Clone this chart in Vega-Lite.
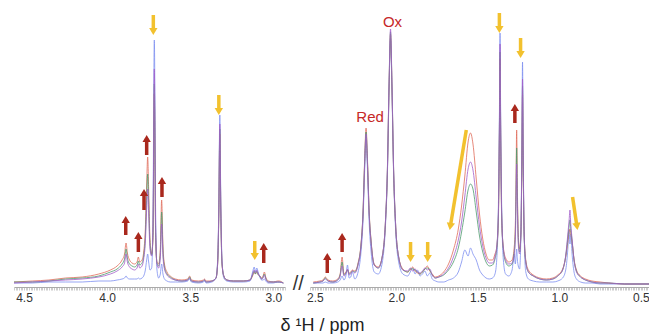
{
"$schema": "https://vega.github.io/schema/vega-lite/v6.json",
"padding": {"left": 12, "top": 0, "right": 0, "bottom": 0},
"spacing": 25,
"bounds": "flush",
"background": "white",
"config": {"view": {"stroke": null}, "font": "Liberation Sans"},
"resolve": {"scale": {"x": "independent", "y": "independent", "color": "independent"}},
"datasets": {
"specL": [
{"s":"b","x":4.56,"y":1},{"s":"b","x":4.45,"y":1},{"s":"b","x":4.35,"y":2},{"s":"b","x":4.25,"y":2},{"s":"b","x":4.15,"y":2},{"s":"b","x":4.05,"y":3},{"s":"b","x":3.98,"y":3},{"s":"b","x":3.94,"y":4},{"s":"b","x":3.91,"y":5},{"s":"b","x":3.895,"y":6},
{"s":"b","x":3.886,"y":8},{"s":"b","x":3.878,"y":6},{"s":"b","x":3.865,"y":5},{"s":"b","x":3.85,"y":5},{"s":"b","x":3.835,"y":5},{"s":"b","x":3.82,"y":5},{"s":"b","x":3.812,"y":6},{"s":"b","x":3.804,"y":5},{"s":"b","x":3.79,"y":6},{"s":"b","x":3.78,"y":8},
{"s":"b","x":3.77,"y":14},{"s":"b","x":3.762,"y":24},{"s":"b","x":3.756,"y":30},{"s":"b","x":3.75,"y":22},{"s":"b","x":3.742,"y":14},{"s":"b","x":3.732,"y":16},{"s":"b","x":3.724,"y":70},{"s":"b","x":3.716,"y":244},{"s":"b","x":3.708,"y":70},{"s":"b","x":3.70,"y":14},
{"s":"b","x":3.69,"y":6},{"s":"b","x":3.68,"y":10},{"s":"b","x":3.672,"y":20},{"s":"b","x":3.664,"y":10},{"s":"b","x":3.655,"y":5},{"s":"b","x":3.64,"y":3},{"s":"b","x":3.62,"y":2},{"s":"b","x":3.59,"y":2},{"s":"b","x":3.55,"y":2},{"s":"b","x":3.515,"y":3},
{"s":"b","x":3.504,"y":5},{"s":"b","x":3.493,"y":2},{"s":"b","x":3.45,"y":1},{"s":"b","x":3.42,"y":2},{"s":"b","x":3.414,"y":3},{"s":"b","x":3.405,"y":1},{"s":"b","x":3.37,"y":2},{"s":"b","x":3.345,"y":6},{"s":"b","x":3.335,"y":25},{"s":"b","x":3.328,"y":80},
{"s":"b","x":3.322,"y":169},{"s":"b","x":3.316,"y":80},{"s":"b","x":3.309,"y":25},{"s":"b","x":3.298,"y":6},{"s":"b","x":3.28,"y":3},{"s":"b","x":3.24,"y":2},{"s":"b","x":3.18,"y":2},{"s":"b","x":3.14,"y":3},{"s":"b","x":3.125,"y":12},{"s":"b","x":3.115,"y":17},
{"s":"b","x":3.108,"y":12},{"s":"b","x":3.10,"y":16},{"s":"b","x":3.09,"y":11},{"s":"b","x":3.082,"y":7},{"s":"b","x":3.07,"y":4},{"s":"b","x":3.062,"y":4},{"s":"b","x":3.054,"y":5},{"s":"b","x":3.046,"y":3},{"s":"b","x":3.03,"y":1},{"s":"b","x":3.0,"y":1},
{"s":"b","x":2.975,"y":2},{"s":"b","x":2.965,"y":2},{"s":"b","x":2.94,"y":1},
{"s":"r","x":4.56,"y":2},{"s":"r","x":4.45,"y":3},{"s":"r","x":4.35,"y":4},{"s":"r","x":4.25,"y":6},{"s":"r","x":4.15,"y":7},{"s":"r","x":4.05,"y":10},{"s":"r","x":3.98,"y":14},{"s":"r","x":3.94,"y":18},{"s":"r","x":3.91,"y":24},{"s":"r","x":3.895,"y":30},
{"s":"r","x":3.886,"y":41},{"s":"r","x":3.878,"y":31},{"s":"r","x":3.865,"y":24},{"s":"r","x":3.85,"y":21},{"s":"r","x":3.835,"y":20},{"s":"r","x":3.82,"y":22},{"s":"r","x":3.812,"y":27},{"s":"r","x":3.804,"y":22},{"s":"r","x":3.79,"y":24},{"s":"r","x":3.78,"y":32},
{"s":"r","x":3.77,"y":55},{"s":"r","x":3.762,"y":100},{"s":"r","x":3.756,"y":127},{"s":"r","x":3.75,"y":95},{"s":"r","x":3.742,"y":45},{"s":"r","x":3.732,"y":30},{"s":"r","x":3.724,"y":45},{"s":"r","x":3.716,"y":190},{"s":"r","x":3.708,"y":45},{"s":"r","x":3.70,"y":22},
{"s":"r","x":3.69,"y":20},{"s":"r","x":3.68,"y":35},{"s":"r","x":3.672,"y":84},{"s":"r","x":3.664,"y":38},{"s":"r","x":3.655,"y":20},{"s":"r","x":3.64,"y":12},{"s":"r","x":3.62,"y":8},{"s":"r","x":3.59,"y":5},{"s":"r","x":3.55,"y":4},{"s":"r","x":3.515,"y":5},
{"s":"r","x":3.504,"y":8},{"s":"r","x":3.493,"y":4},{"s":"r","x":3.45,"y":3},{"s":"r","x":3.42,"y":4},{"s":"r","x":3.414,"y":5},{"s":"r","x":3.405,"y":3},{"s":"r","x":3.37,"y":3},{"s":"r","x":3.345,"y":6},{"s":"r","x":3.335,"y":20},{"s":"r","x":3.328,"y":70},
{"s":"r","x":3.322,"y":150},{"s":"r","x":3.316,"y":70},{"s":"r","x":3.309,"y":20},{"s":"r","x":3.298,"y":8},{"s":"r","x":3.28,"y":4},{"s":"r","x":3.24,"y":3},{"s":"r","x":3.18,"y":3},{"s":"r","x":3.14,"y":4},{"s":"r","x":3.125,"y":8},{"s":"r","x":3.115,"y":12},
{"s":"r","x":3.108,"y":10},{"s":"r","x":3.10,"y":12},{"s":"r","x":3.09,"y":9},{"s":"r","x":3.082,"y":8},{"s":"r","x":3.07,"y":6},{"s":"r","x":3.062,"y":8},{"s":"r","x":3.054,"y":12},{"s":"r","x":3.046,"y":7},{"s":"r","x":3.03,"y":3},{"s":"r","x":3.0,"y":2},
{"s":"r","x":2.975,"y":3},{"s":"r","x":2.965,"y":3},{"s":"r","x":2.94,"y":1},
{"s":"g","x":4.56,"y":2},{"s":"g","x":4.45,"y":2},{"s":"g","x":4.35,"y":3},{"s":"g","x":4.25,"y":5},{"s":"g","x":4.15,"y":6},{"s":"g","x":4.05,"y":8},{"s":"g","x":3.98,"y":12},{"s":"g","x":3.94,"y":15},{"s":"g","x":3.91,"y":20},{"s":"g","x":3.895,"y":25},
{"s":"g","x":3.886,"y":35},{"s":"g","x":3.878,"y":26},{"s":"g","x":3.865,"y":20},{"s":"g","x":3.85,"y":18},{"s":"g","x":3.835,"y":17},{"s":"g","x":3.82,"y":19},{"s":"g","x":3.812,"y":23},{"s":"g","x":3.804,"y":19},{"s":"g","x":3.79,"y":21},{"s":"g","x":3.78,"y":28},
{"s":"g","x":3.77,"y":48},{"s":"g","x":3.762,"y":88},{"s":"g","x":3.756,"y":110},{"s":"g","x":3.75,"y":82},{"s":"g","x":3.742,"y":40},{"s":"g","x":3.732,"y":29},{"s":"g","x":3.724,"y":50},{"s":"g","x":3.716,"y":200},{"s":"g","x":3.708,"y":50},{"s":"g","x":3.70,"y":21},
{"s":"g","x":3.69,"y":18},{"s":"g","x":3.68,"y":30},{"s":"g","x":3.672,"y":72},{"s":"g","x":3.664,"y":33},{"s":"g","x":3.655,"y":17},{"s":"g","x":3.64,"y":10},{"s":"g","x":3.62,"y":7},{"s":"g","x":3.59,"y":4},{"s":"g","x":3.55,"y":3},{"s":"g","x":3.515,"y":4},
{"s":"g","x":3.504,"y":7},{"s":"g","x":3.493,"y":3},{"s":"g","x":3.45,"y":2},{"s":"g","x":3.42,"y":3},{"s":"g","x":3.414,"y":4},{"s":"g","x":3.405,"y":2},{"s":"g","x":3.37,"y":3},{"s":"g","x":3.345,"y":6},{"s":"g","x":3.335,"y":21},{"s":"g","x":3.328,"y":72},
{"s":"g","x":3.322,"y":155},{"s":"g","x":3.316,"y":72},{"s":"g","x":3.309,"y":21},{"s":"g","x":3.298,"y":8},{"s":"g","x":3.28,"y":4},{"s":"g","x":3.24,"y":3},{"s":"g","x":3.18,"y":3},{"s":"g","x":3.14,"y":4},{"s":"g","x":3.125,"y":9},{"s":"g","x":3.115,"y":13},
{"s":"g","x":3.108,"y":10},{"s":"g","x":3.10,"y":13},{"s":"g","x":3.09,"y":9},{"s":"g","x":3.082,"y":8},{"s":"g","x":3.07,"y":5},{"s":"g","x":3.062,"y":7},{"s":"g","x":3.054,"y":10},{"s":"g","x":3.046,"y":6},{"s":"g","x":3.03,"y":2},{"s":"g","x":3.0,"y":2},
{"s":"g","x":2.975,"y":2},{"s":"g","x":2.965,"y":2},{"s":"g","x":2.94,"y":1},
{"s":"p","x":4.56,"y":1},{"s":"p","x":4.45,"y":2},{"s":"p","x":4.35,"y":3},{"s":"p","x":4.25,"y":4},{"s":"p","x":4.15,"y":5},{"s":"p","x":4.05,"y":7},{"s":"p","x":3.98,"y":10},{"s":"p","x":3.94,"y":13},{"s":"p","x":3.91,"y":17},{"s":"p","x":3.895,"y":21},
{"s":"p","x":3.886,"y":30},{"s":"p","x":3.878,"y":22},{"s":"p","x":3.865,"y":17},{"s":"p","x":3.85,"y":15},{"s":"p","x":3.835,"y":14},{"s":"p","x":3.82,"y":16},{"s":"p","x":3.812,"y":20},{"s":"p","x":3.804,"y":16},{"s":"p","x":3.79,"y":18},{"s":"p","x":3.78,"y":25},
{"s":"p","x":3.77,"y":42},{"s":"p","x":3.762,"y":75},{"s":"p","x":3.756,"y":95},{"s":"p","x":3.75,"y":70},{"s":"p","x":3.742,"y":35},{"s":"p","x":3.732,"y":28},{"s":"p","x":3.724,"y":55},{"s":"p","x":3.716,"y":215},{"s":"p","x":3.708,"y":55},{"s":"p","x":3.70,"y":20},
{"s":"p","x":3.69,"y":16},{"s":"p","x":3.68,"y":26},{"s":"p","x":3.672,"y":60},{"s":"p","x":3.664,"y":28},{"s":"p","x":3.655,"y":15},{"s":"p","x":3.64,"y":9},{"s":"p","x":3.62,"y":6},{"s":"p","x":3.59,"y":4},{"s":"p","x":3.55,"y":3},{"s":"p","x":3.515,"y":4},
{"s":"p","x":3.504,"y":6},{"s":"p","x":3.493,"y":3},{"s":"p","x":3.45,"y":2},{"s":"p","x":3.42,"y":3},{"s":"p","x":3.414,"y":4},{"s":"p","x":3.405,"y":2},{"s":"p","x":3.37,"y":3},{"s":"p","x":3.345,"y":6},{"s":"p","x":3.335,"y":22},{"s":"p","x":3.328,"y":75},
{"s":"p","x":3.322,"y":160},{"s":"p","x":3.316,"y":75},{"s":"p","x":3.309,"y":22},{"s":"p","x":3.298,"y":8},{"s":"p","x":3.28,"y":4},{"s":"p","x":3.24,"y":3},{"s":"p","x":3.18,"y":3},{"s":"p","x":3.14,"y":4},{"s":"p","x":3.125,"y":10},{"s":"p","x":3.115,"y":14},
{"s":"p","x":3.108,"y":11},{"s":"p","x":3.10,"y":14},{"s":"p","x":3.09,"y":10},{"s":"p","x":3.082,"y":8},{"s":"p","x":3.07,"y":5},{"s":"p","x":3.062,"y":6},{"s":"p","x":3.054,"y":9},{"s":"p","x":3.046,"y":5},{"s":"p","x":3.03,"y":2},{"s":"p","x":3.0,"y":2},
{"s":"p","x":2.975,"y":2},{"s":"p","x":2.965,"y":2},{"s":"p","x":2.94,"y":1}
],
"specR": [
{"s":"b","x":2.51,"y":1},{"s":"b","x":2.47,"y":1},{"s":"b","x":2.45,"y":1},{"s":"b","x":2.436,"y":2},{"s":"b","x":2.42,"y":1},{"s":"b","x":2.39,"y":1},{"s":"b","x":2.36,"y":2},{"s":"b","x":2.345,"y":4},{"s":"b","x":2.333,"y":8},{"s":"b","x":2.322,"y":4},
{"s":"b","x":2.31,"y":8},{"s":"b","x":2.30,"y":19},{"s":"b","x":2.29,"y":6},{"s":"b","x":2.28,"y":7},{"s":"b","x":2.27,"y":12},{"s":"b","x":2.255,"y":5},{"s":"b","x":2.235,"y":12},{"s":"b","x":2.217,"y":32},{"s":"b","x":2.205,"y":62},{"s":"b","x":2.195,"y":112},
{"s":"b","x":2.186,"y":145},{"s":"b","x":2.177,"y":112},{"s":"b","x":2.167,"y":62},{"s":"b","x":2.155,"y":32},{"s":"b","x":2.136,"y":12},{"s":"b","x":2.111,"y":10},{"s":"b","x":2.086,"y":22},{"s":"b","x":2.067,"y":58},{"s":"b","x":2.055,"y":110},{"s":"b","x":2.045,"y":192},
{"s":"b","x":2.036,"y":245},{"s":"b","x":2.027,"y":192},{"s":"b","x":2.017,"y":110},{"s":"b","x":2.005,"y":55},{"s":"b","x":1.986,"y":22},{"s":"b","x":1.96,"y":10},{"s":"b","x":1.93,"y":8},{"s":"b","x":1.915,"y":12},{"s":"b","x":1.90,"y":16},{"s":"b","x":1.885,"y":10},
{"s":"b","x":1.87,"y":14},{"s":"b","x":1.855,"y":8},{"s":"b","x":1.84,"y":10},{"s":"b","x":1.825,"y":13},{"s":"b","x":1.81,"y":8},{"s":"b","x":1.795,"y":11},{"s":"b","x":1.78,"y":5},{"s":"b","x":1.76,"y":3},{"s":"b","x":1.74,"y":2},{"s":"b","x":1.71,"y":2},
{"s":"b","x":1.68,"y":4},{"s":"b","x":1.65,"y":6},{"s":"b","x":1.62,"y":12},{"s":"b","x":1.60,"y":22},{"s":"b","x":1.58,"y":34},{"s":"b","x":1.56,"y":28},{"s":"b","x":1.545,"y":36},{"s":"b","x":1.53,"y":30},{"s":"b","x":1.51,"y":24},{"s":"b","x":1.49,"y":14},
{"s":"b","x":1.47,"y":9},{"s":"b","x":1.45,"y":6},{"s":"b","x":1.43,"y":5},{"s":"b","x":1.41,"y":6},{"s":"b","x":1.395,"y":10},{"s":"b","x":1.384,"y":25},{"s":"b","x":1.374,"y":78},{"s":"b","x":1.368,"y":165},{"s":"b","x":1.364,"y":251},{"s":"b","x":1.36,"y":165},
{"s":"b","x":1.354,"y":78},{"s":"b","x":1.344,"y":25},{"s":"b","x":1.33,"y":10},{"s":"b","x":1.31,"y":8},{"s":"b","x":1.29,"y":14},{"s":"b","x":1.278,"y":30},{"s":"b","x":1.27,"y":20},{"s":"b","x":1.266,"y":28},{"s":"b","x":1.262,"y":35},{"s":"b","x":1.258,"y":25},
{"s":"b","x":1.252,"y":18},{"s":"b","x":1.244,"y":15},{"s":"b","x":1.236,"y":50},{"s":"b","x":1.23,"y":138},{"s":"b","x":1.226,"y":222},{"s":"b","x":1.222,"y":138},{"s":"b","x":1.216,"y":48},{"s":"b","x":1.206,"y":12},{"s":"b","x":1.19,"y":5},{"s":"b","x":1.16,"y":3},
{"s":"b","x":1.12,"y":2},{"s":"b","x":1.08,"y":2},{"s":"b","x":1.04,"y":2},{"s":"b","x":1.01,"y":3},{"s":"b","x":0.98,"y":6},{"s":"b","x":0.96,"y":15},{"s":"b","x":0.948,"y":35},{"s":"b","x":0.94,"y":54},{"s":"b","x":0.935,"y":40},{"s":"b","x":0.93,"y":50},
{"s":"b","x":0.922,"y":30},{"s":"b","x":0.91,"y":12},{"s":"b","x":0.895,"y":5},{"s":"b","x":0.87,"y":2},{"s":"b","x":0.84,"y":1},{"s":"b","x":0.80,"y":1},{"s":"b","x":0.75,"y":0},{"s":"b","x":0.70,"y":0},{"s":"b","x":0.60,"y":0},{"s":"b","x":0.45,"y":0},
{"s":"r","x":2.51,"y":2},{"s":"r","x":2.47,"y":3},{"s":"r","x":2.45,"y":4},{"s":"r","x":2.436,"y":7},{"s":"r","x":2.42,"y":4},{"s":"r","x":2.39,"y":3},{"s":"r","x":2.36,"y":5},{"s":"r","x":2.345,"y":10},{"s":"r","x":2.333,"y":27},{"s":"r","x":2.322,"y":10},
{"s":"r","x":2.31,"y":12},{"s":"r","x":2.30,"y":14},{"s":"r","x":2.29,"y":11},{"s":"r","x":2.28,"y":12},{"s":"r","x":2.27,"y":14},{"s":"r","x":2.255,"y":13},{"s":"r","x":2.235,"y":21},{"s":"r","x":2.217,"y":40},{"s":"r","x":2.205,"y":71},{"s":"r","x":2.195,"y":123},
{"s":"r","x":2.186,"y":156},{"s":"r","x":2.177,"y":123},{"s":"r","x":2.167,"y":73},{"s":"r","x":2.155,"y":43},{"s":"r","x":2.136,"y":20},{"s":"r","x":2.111,"y":17},{"s":"r","x":2.086,"y":28},{"s":"r","x":2.067,"y":62},{"s":"r","x":2.055,"y":113},{"s":"r","x":2.045,"y":196},
{"s":"r","x":2.036,"y":250},{"s":"r","x":2.027,"y":196},{"s":"r","x":2.017,"y":113},{"s":"r","x":2.005,"y":60},{"s":"r","x":1.986,"y":27},{"s":"r","x":1.96,"y":15},{"s":"r","x":1.93,"y":12},{"s":"r","x":1.915,"y":14},{"s":"r","x":1.90,"y":17},{"s":"r","x":1.885,"y":13},
{"s":"r","x":1.87,"y":11},{"s":"r","x":1.855,"y":10},{"s":"r","x":1.84,"y":12},{"s":"r","x":1.825,"y":15},{"s":"r","x":1.81,"y":18},{"s":"r","x":1.795,"y":13},{"s":"r","x":1.78,"y":10},{"s":"r","x":1.76,"y":7},{"s":"r","x":1.74,"y":8},{"s":"r","x":1.71,"y":12},
{"s":"r","x":1.68,"y":20},{"s":"r","x":1.65,"y":34},{"s":"r","x":1.62,"y":55},{"s":"r","x":1.60,"y":78},{"s":"r","x":1.58,"y":108},{"s":"r","x":1.56,"y":142},{"s":"r","x":1.545,"y":151},{"s":"r","x":1.53,"y":140},{"s":"r","x":1.51,"y":105},{"s":"r","x":1.49,"y":70},
{"s":"r","x":1.47,"y":45},{"s":"r","x":1.45,"y":30},{"s":"r","x":1.43,"y":24},{"s":"r","x":1.41,"y":24},{"s":"r","x":1.395,"y":30},{"s":"r","x":1.384,"y":37},{"s":"r","x":1.374,"y":65},{"s":"r","x":1.368,"y":147},{"s":"r","x":1.364,"y":225},{"s":"r","x":1.36,"y":147},
{"s":"r","x":1.354,"y":65},{"s":"r","x":1.344,"y":37},{"s":"r","x":1.33,"y":26},{"s":"r","x":1.31,"y":22},{"s":"r","x":1.29,"y":24},{"s":"r","x":1.278,"y":35},{"s":"r","x":1.27,"y":60},{"s":"r","x":1.266,"y":100},{"s":"r","x":1.262,"y":154},{"s":"r","x":1.258,"y":100},
{"s":"r","x":1.252,"y":50},{"s":"r","x":1.244,"y":35},{"s":"r","x":1.236,"y":50},{"s":"r","x":1.23,"y":120},{"s":"r","x":1.226,"y":190},{"s":"r","x":1.222,"y":120},{"s":"r","x":1.216,"y":50},{"s":"r","x":1.206,"y":24},{"s":"r","x":1.19,"y":14},{"s":"r","x":1.16,"y":9},
{"s":"r","x":1.12,"y":6},{"s":"r","x":1.08,"y":5},{"s":"r","x":1.04,"y":6},{"s":"r","x":1.01,"y":9},{"s":"r","x":0.98,"y":15},{"s":"r","x":0.96,"y":28},{"s":"r","x":0.948,"y":42},{"s":"r","x":0.94,"y":52},{"s":"r","x":0.935,"y":55},{"s":"r","x":0.93,"y":50},
{"s":"r","x":0.922,"y":42},{"s":"r","x":0.91,"y":25},{"s":"r","x":0.895,"y":14},{"s":"r","x":0.87,"y":8},{"s":"r","x":0.84,"y":5},{"s":"r","x":0.80,"y":3},{"s":"r","x":0.75,"y":2},{"s":"r","x":0.70,"y":1},{"s":"r","x":0.60,"y":0},{"s":"r","x":0.45,"y":0},
{"s":"g","x":2.51,"y":1},{"s":"g","x":2.47,"y":2},{"s":"g","x":2.45,"y":3},{"s":"g","x":2.436,"y":6},{"s":"g","x":2.42,"y":3},{"s":"g","x":2.39,"y":2},{"s":"g","x":2.36,"y":4},{"s":"g","x":2.345,"y":9},{"s":"g","x":2.333,"y":22},{"s":"g","x":2.322,"y":9},
{"s":"g","x":2.31,"y":11},{"s":"g","x":2.30,"y":14},{"s":"g","x":2.29,"y":10},{"s":"g","x":2.28,"y":11},{"s":"g","x":2.27,"y":13},{"s":"g","x":2.255,"y":12},{"s":"g","x":2.235,"y":20},{"s":"g","x":2.217,"y":39},{"s":"g","x":2.205,"y":70},{"s":"g","x":2.195,"y":120},
{"s":"g","x":2.186,"y":152},{"s":"g","x":2.177,"y":120},{"s":"g","x":2.167,"y":71},{"s":"g","x":2.155,"y":42},{"s":"g","x":2.136,"y":19},{"s":"g","x":2.111,"y":16},{"s":"g","x":2.086,"y":28},{"s":"g","x":2.067,"y":62},{"s":"g","x":2.055,"y":114},{"s":"g","x":2.045,"y":198},
{"s":"g","x":2.036,"y":252},{"s":"g","x":2.027,"y":198},{"s":"g","x":2.017,"y":114},{"s":"g","x":2.005,"y":60},{"s":"g","x":1.986,"y":27},{"s":"g","x":1.96,"y":14},{"s":"g","x":1.93,"y":12},{"s":"g","x":1.915,"y":15},{"s":"g","x":1.90,"y":15},{"s":"g","x":1.885,"y":14},
{"s":"g","x":1.87,"y":12},{"s":"g","x":1.855,"y":10},{"s":"g","x":1.84,"y":12},{"s":"g","x":1.825,"y":15},{"s":"g","x":1.81,"y":16},{"s":"g","x":1.795,"y":14},{"s":"g","x":1.78,"y":9},{"s":"g","x":1.76,"y":6},{"s":"g","x":1.74,"y":7},{"s":"g","x":1.71,"y":9},
{"s":"g","x":1.68,"y":14},{"s":"g","x":1.65,"y":22},{"s":"g","x":1.62,"y":36},{"s":"g","x":1.60,"y":52},{"s":"g","x":1.58,"y":72},{"s":"g","x":1.56,"y":94},{"s":"g","x":1.545,"y":100},{"s":"g","x":1.53,"y":95},{"s":"g","x":1.51,"y":72},{"s":"g","x":1.49,"y":48},
{"s":"g","x":1.47,"y":32},{"s":"g","x":1.45,"y":22},{"s":"g","x":1.43,"y":18},{"s":"g","x":1.41,"y":19},{"s":"g","x":1.395,"y":25},{"s":"g","x":1.384,"y":36},{"s":"g","x":1.374,"y":70},{"s":"g","x":1.368,"y":150},{"s":"g","x":1.364,"y":232},{"s":"g","x":1.36,"y":150},
{"s":"g","x":1.354,"y":70},{"s":"g","x":1.344,"y":35},{"s":"g","x":1.33,"y":22},{"s":"g","x":1.31,"y":18},{"s":"g","x":1.29,"y":20},{"s":"g","x":1.278,"y":30},{"s":"g","x":1.27,"y":52},{"s":"g","x":1.266,"y":90},{"s":"g","x":1.262,"y":136},{"s":"g","x":1.258,"y":90},
{"s":"g","x":1.252,"y":45},{"s":"g","x":1.244,"y":32},{"s":"g","x":1.236,"y":50},{"s":"g","x":1.23,"y":124},{"s":"g","x":1.226,"y":198},{"s":"g","x":1.222,"y":124},{"s":"g","x":1.216,"y":50},{"s":"g","x":1.206,"y":22},{"s":"g","x":1.19,"y":12},{"s":"g","x":1.16,"y":8},
{"s":"g","x":1.12,"y":5},{"s":"g","x":1.08,"y":4},{"s":"g","x":1.04,"y":5},{"s":"g","x":1.01,"y":8},{"s":"g","x":0.98,"y":14},{"s":"g","x":0.96,"y":29},{"s":"g","x":0.948,"y":46},{"s":"g","x":0.94,"y":58},{"s":"g","x":0.935,"y":64},{"s":"g","x":0.93,"y":55},
{"s":"g","x":0.922,"y":43},{"s":"g","x":0.91,"y":24},{"s":"g","x":0.895,"y":13},{"s":"g","x":0.87,"y":7},{"s":"g","x":0.84,"y":4},{"s":"g","x":0.80,"y":2},{"s":"g","x":0.75,"y":1},{"s":"g","x":0.70,"y":1},{"s":"g","x":0.60,"y":0},{"s":"g","x":0.45,"y":0},
{"s":"p","x":2.51,"y":1},{"s":"p","x":2.47,"y":2},{"s":"p","x":2.45,"y":3},{"s":"p","x":2.436,"y":5},{"s":"p","x":2.42,"y":3},{"s":"p","x":2.39,"y":2},{"s":"p","x":2.36,"y":4},{"s":"p","x":2.345,"y":8},{"s":"p","x":2.333,"y":18},{"s":"p","x":2.322,"y":8},
{"s":"p","x":2.31,"y":10},{"s":"p","x":2.30,"y":15},{"s":"p","x":2.29,"y":9},{"s":"p","x":2.28,"y":10},{"s":"p","x":2.27,"y":13},{"s":"p","x":2.255,"y":11},{"s":"p","x":2.235,"y":19},{"s":"p","x":2.217,"y":38},{"s":"p","x":2.205,"y":68},{"s":"p","x":2.195,"y":118},
{"s":"p","x":2.186,"y":150},{"s":"p","x":2.177,"y":118},{"s":"p","x":2.167,"y":70},{"s":"p","x":2.155,"y":41},{"s":"p","x":2.136,"y":19},{"s":"p","x":2.111,"y":16},{"s":"p","x":2.086,"y":28},{"s":"p","x":2.067,"y":63},{"s":"p","x":2.055,"y":116},{"s":"p","x":2.045,"y":200},
{"s":"p","x":2.036,"y":255},{"s":"p","x":2.027,"y":200},{"s":"p","x":2.017,"y":116},{"s":"p","x":2.005,"y":61},{"s":"p","x":1.986,"y":27},{"s":"p","x":1.96,"y":14},{"s":"p","x":1.93,"y":13},{"s":"p","x":1.915,"y":16},{"s":"p","x":1.90,"y":13},{"s":"p","x":1.885,"y":15},
{"s":"p","x":1.87,"y":12},{"s":"p","x":1.855,"y":11},{"s":"p","x":1.84,"y":13},{"s":"p","x":1.825,"y":16},{"s":"p","x":1.81,"y":14},{"s":"p","x":1.795,"y":15},{"s":"p","x":1.78,"y":9},{"s":"p","x":1.76,"y":6},{"s":"p","x":1.74,"y":7},{"s":"p","x":1.71,"y":10},
{"s":"p","x":1.68,"y":16},{"s":"p","x":1.65,"y":27},{"s":"p","x":1.62,"y":44},{"s":"p","x":1.60,"y":62},{"s":"p","x":1.58,"y":88},{"s":"p","x":1.56,"y":115},{"s":"p","x":1.545,"y":122},{"s":"p","x":1.53,"y":114},{"s":"p","x":1.51,"y":86},{"s":"p","x":1.49,"y":58},
{"s":"p","x":1.47,"y":38},{"s":"p","x":1.45,"y":26},{"s":"p","x":1.43,"y":21},{"s":"p","x":1.41,"y":21},{"s":"p","x":1.395,"y":27},{"s":"p","x":1.384,"y":38},{"s":"p","x":1.374,"y":72},{"s":"p","x":1.368,"y":155},{"s":"p","x":1.364,"y":240},{"s":"p","x":1.36,"y":155},
{"s":"p","x":1.354,"y":72},{"s":"p","x":1.344,"y":36},{"s":"p","x":1.33,"y":24},{"s":"p","x":1.31,"y":20},{"s":"p","x":1.29,"y":21},{"s":"p","x":1.278,"y":28},{"s":"p","x":1.27,"y":45},{"s":"p","x":1.266,"y":80},{"s":"p","x":1.262,"y":120},{"s":"p","x":1.258,"y":80},
{"s":"p","x":1.252,"y":40},{"s":"p","x":1.244,"y":30},{"s":"p","x":1.236,"y":50},{"s":"p","x":1.23,"y":128},{"s":"p","x":1.226,"y":205},{"s":"p","x":1.222,"y":128},{"s":"p","x":1.216,"y":50},{"s":"p","x":1.206,"y":22},{"s":"p","x":1.19,"y":12},{"s":"p","x":1.16,"y":8},
{"s":"p","x":1.12,"y":5},{"s":"p","x":1.08,"y":4},{"s":"p","x":1.04,"y":5},{"s":"p","x":1.01,"y":8},{"s":"p","x":0.98,"y":14},{"s":"p","x":0.96,"y":30},{"s":"p","x":0.948,"y":50},{"s":"p","x":0.94,"y":64},{"s":"p","x":0.935,"y":74},{"s":"p","x":0.93,"y":60},
{"s":"p","x":0.922,"y":45},{"s":"p","x":0.91,"y":24},{"s":"p","x":0.895,"y":12},{"s":"p","x":0.87,"y":7},{"s":"p","x":0.84,"y":4},{"s":"p","x":0.80,"y":2},{"s":"p","x":0.75,"y":1},{"s":"p","x":0.70,"y":1},{"s":"p","x":0.60,"y":0},{"s":"p","x":0.45,"y":0}
],
"arrL": [
{"k":"up","x1":3.888,"y1":49,"x2":3.888,"y2":64.5},
{"k":"up","x1":3.812,"y1":32,"x2":3.812,"y2":48.5},
{"k":"up","x1":3.778,"y1":74,"x2":3.778,"y2":91.5},
{"k":"up","x1":3.762,"y1":129,"x2":3.762,"y2":145.5},
{"k":"up","x1":3.67,"y1":87,"x2":3.67,"y2":103.5},
{"k":"up","x1":3.058,"y1":21,"x2":3.058,"y2":37.5},
{"k":"down","x1":3.722,"y1":269,"x2":3.722,"y2":252.5},
{"k":"down","x1":3.328,"y1":189,"x2":3.328,"y2":172.5},
{"k":"down","x1":3.112,"y1":43,"x2":3.112,"y2":27.5}
],
"arrR": [
{"k":"up","x1":2.424,"y1":11,"x2":2.424,"y2":27.5},
{"k":"up","x1":2.333,"y1":32,"x2":2.333,"y2":47.5},
{"k":"up","x1":1.273,"y1":161,"x2":1.273,"y2":176.5},
{"k":"down","x1":1.913,"y1":42,"x2":1.913,"y2":25.5},
{"k":"down","x1":1.808,"y1":42,"x2":1.808,"y2":25.5},
{"k":"down","x1":1.368,"y1":271,"x2":1.368,"y2":254.5},
{"k":"down","x1":1.238,"y1":246,"x2":1.238,"y2":229.5},
{"k":"down","x1":1.571,"y1":154,"x2":1.669,"y2":57.5},
{"k":"down","x1":0.919,"y1":87,"x2":0.892,"y2":57.5}
],
"labR": [
{"t":"Red","x":2.161,"y":167},
{"t":"Ox","x":2.024,"y":262}
],
"brk": [{"t":"//","x":2.85,"y":0}]
},
"hconcat": [
{
"width": 271, "height": 287,
"layer": [
{
"data": {"name": "specL"},
"mark": {"type": "line", "interpolate": "monotone", "strokeWidth": 1, "opacity": 0.8},
"encoding": {
"x": {"field": "x", "type": "quantitative", "scale": {"domain": [2.93, 4.56], "reverse": true, "nice": false, "zero": false},
"axis": {"title": "δ ¹H / ppm", "titleX": 308, "titleY": 38, "titleAlign": "center", "titleBaseline": "middle", "titleFontSize": 18, "titleFontWeight": "normal", "titleColor": "#222", "titleFont": "Liberation Sans",
"grid": false, "tickCount": 163, "tickSize": 3, "tickWidth": 0.6, "tickColor": "#aaa", "domainColor": "#aaa", "labelOverlap": false, "labelPadding": 2, "labelFontSize": 12, "labelColor": "#333", "labelFont": "Liberation Sans",
"labelExpr": "abs(datum.value*2 - round(datum.value*2)) < 0.001 ? format(datum.value, '.1f') : ''"}},
"y": {"field": "y", "type": "quantitative", "scale": {"domain": [-3, 284], "nice": false, "zero": false}, "axis": null},
"color": {"field": "s", "type": "nominal", "scale": {"domain": ["b", "r", "g", "p"], "range": ["#7d8ff0", "#e06c5a", "#4e9a6e", "#a35ec9"]}, "legend": null}
}
},
{
"data": {"name": "arrL"},
"mark": {"type": "rule", "strokeWidth": 3.5},
"encoding": {
"x": {"field": "x1", "type": "quantitative"}, "x2": {"field": "x2"},
"y": {"field": "y1", "type": "quantitative"}, "y2": {"field": "y2"},
"color": {"condition": {"test": "datum.k == 'up'", "value": "#a9281d"}, "value": "#f2c12e"}
}
},
{
"data": {"name": "arrL"},
"mark": {"type": "point", "filled": true, "size": 70, "opacity": 1},
"encoding": {
"x": {"field": "x2", "type": "quantitative"},
"y": {"field": "y2", "type": "quantitative"},
"shape": {"condition": {"test": "datum.k == 'up'", "value": "triangle-up"}, "value": "triangle-down"},
"color": {"condition": {"test": "datum.k == 'up'", "value": "#a9281d"}, "value": "#f2c12e"}
}
},
{
"data": {"name": "brk"},
"mark": {"type": "text", "fontSize": 20, "color": "#333", "baseline": "middle", "align": "center", "clip": false},
"encoding": {
"x": {"field": "x", "type": "quantitative"},
"y": {"field": "y", "type": "quantitative"},
"text": {"field": "t"}
}
}
]
},
{
"width": 339, "height": 287,
"layer": [
{
"data": {"name": "specR"},
"mark": {"type": "line", "interpolate": "monotone", "strokeWidth": 1, "opacity": 0.8},
"encoding": {
"x": {"field": "x", "type": "quantitative", "scale": {"domain": [0.45, 2.53], "reverse": true, "nice": false, "zero": false},
"axis": {"title": null, "grid": false, "tickCount": 208, "tickSize": 3, "tickWidth": 0.6, "tickColor": "#aaa", "domainColor": "#aaa", "labelOverlap": false, "labelPadding": 2, "labelFontSize": 12, "labelColor": "#333", "labelFont": "Liberation Sans",
"labelExpr": "abs(datum.value*2 - round(datum.value*2)) < 0.001 ? format(datum.value, '.1f') : ''"}},
"y": {"field": "y", "type": "quantitative", "scale": {"domain": [-3, 284], "nice": false, "zero": false}, "axis": null},
"color": {"field": "s", "type": "nominal", "scale": {"domain": ["b", "r", "g", "p"], "range": ["#7d8ff0", "#e06c5a", "#4e9a6e", "#a35ec9"]}, "legend": null}
}
},
{
"data": {"name": "arrR"},
"mark": {"type": "rule", "strokeWidth": 3.5},
"encoding": {
"x": {"field": "x1", "type": "quantitative"}, "x2": {"field": "x2"},
"y": {"field": "y1", "type": "quantitative"}, "y2": {"field": "y2"},
"color": {"condition": {"test": "datum.k == 'up'", "value": "#a9281d"}, "value": "#f2c12e"}
}
},
{
"data": {"name": "arrR"},
"mark": {"type": "point", "filled": true, "size": 70, "opacity": 1},
"encoding": {
"x": {"field": "x2", "type": "quantitative"},
"y": {"field": "y2", "type": "quantitative"},
"shape": {"condition": {"test": "datum.k == 'up'", "value": "triangle-up"}, "value": "triangle-down"},
"angle": {"condition": [{"test": "datum.x2 > datum.x1", "value": 9.5}, {"test": "datum.x2 < datum.x1", "value": -8.6}], "value": 0},
"color": {"condition": {"test": "datum.k == 'up'", "value": "#a9281d"}, "value": "#f2c12e"}
}
},
{
"data": {"name": "labR"},
"mark": {"type": "text", "fontSize": 15, "color": "#c62828", "baseline": "middle", "align": "center", "font": "Liberation Sans"},
"encoding": {
"x": {"field": "x", "type": "quantitative"},
"y": {"field": "y", "type": "quantitative"},
"text": {"field": "t"}
}
}
]
}
]
}
